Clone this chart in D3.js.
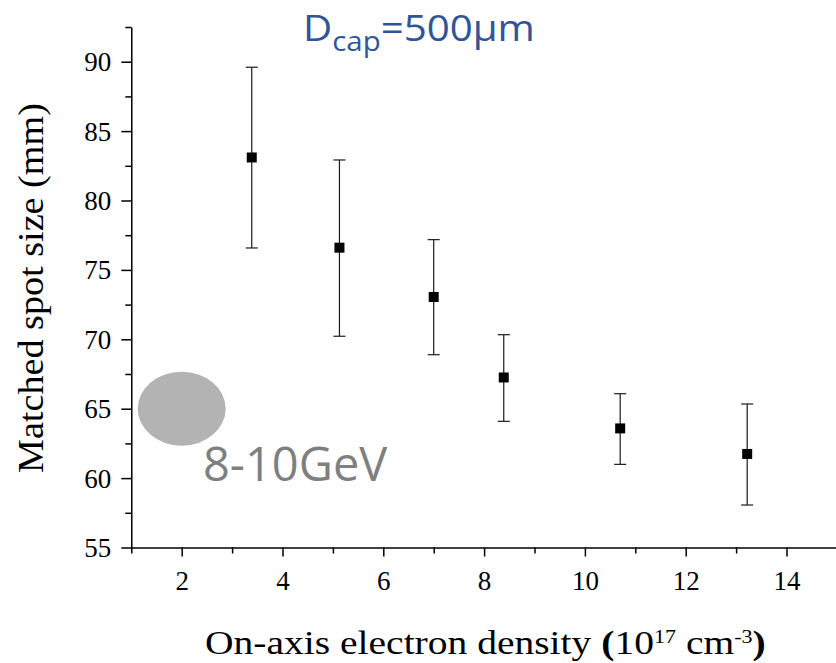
<!DOCTYPE html>
<html lang="en">
<head>
    <meta charset="UTF-8">
    <title>Matched spot size</title>
    <script type="text/javascript" src="https://d3js.org/d3.v7.min.js"></script>
    <style>
        body { margin: 0; background: #fff; }
        .tick text { font-family: "Liberation Serif", "Times New Roman", serif; font-size: 27px; fill: #000; }
        .axis path, .axis line { stroke: #000; stroke-width: 1.5px; }
    </style>
</head>
<body>
    <div id="chart"></div>

    <script type="text/javascript">

        // data
        var density = [3.39, 5.13, 7.0, 8.39, 10.70, 13.22];
        var spotSize = [83.1, 76.6, 73.05, 67.25, 63.58, 61.74];
        var errTop = [89.6, 82.92, 77.18, 70.33, 66.08, 65.34];
        var errBottom = [76.58, 70.22, 68.89, 64.09, 60.99, 58.06];

        var xMajor = [2, 4, 6, 8, 10, 12, 14];
        var xMinor = [1, 3, 5, 7, 9, 11, 13, 15];
        var yMajor = [55, 60, 65, 70, 75, 80, 85, 90];
        var yMinor = [57.5, 62.5, 67.5, 72.5, 77.5, 82.5, 87.5, 92.5];

        var w = 836,
            h = 663;

        var svg = d3.select("#chart")
            .append("svg")
            .attr("width", w)
            .attr("height", h);

        var x = d3.scaleLinear().domain([1, 15]).range([131.3, 836.9]);
        var y = d3.scaleLinear().domain([55, 92.5]).range([547.5, 27]);

        // minor ticks first, majors on top
        svg.append("g")
            .attr("class", "axis")
            .attr("transform", "translate(0," + y(55) + ")")
            .call(d3.axisBottom(x).tickValues(xMinor).tickSize(6).tickFormat(""))
            .select(".domain").remove();

        svg.append("g")
            .attr("class", "axis")
            .attr("transform", "translate(" + x(1) + ",0)")
            .call(d3.axisLeft(y).tickValues(yMinor).tickSize(6).tickFormat(""))
            .select(".domain").remove();

        var xAxis = svg.append("g")
            .attr("class", "axis")
            .attr("transform", "translate(0," + y(55) + ")")
            .call(d3.axisBottom(x).tickValues(xMajor).tickSize(9).tickSizeOuter(0).tickFormat(d3.format("d")));
        xAxis.selectAll(".tick text").attr("y", 42.5).attr("dy", 0);

        var yAxis = svg.append("g")
            .attr("class", "axis")
            .attr("transform", "translate(" + x(1) + ",0)")
            .call(d3.axisLeft(y).tickValues(yMajor).tickSize(10).tickSizeOuter(0).tickFormat(d3.format("d")));
        yAxis.selectAll(".tick text").attr("x", -20).attr("dy", "0.33em");

        // grey blob + energy label
        svg.append("ellipse")
            .attr("cx", x(2))
            .attr("cy", y(65))
            .attr("rx", 44)
            .attr("ry", 37)
            .attr("fill", "#b3b3b3");

        svg.append("text")
            .attr("x", 203)
            .attr("y", 481)
            .attr("font-family", "'Open Sans', sans-serif")
            .attr("font-size", "47px")
            .attr("fill", "#7f7f7f")
            .text("8-10GeV");

        // error bars
        var pts = density.map(function(d, i) {
            return {x: d, y: spotSize[i], hi: errTop[i], lo: errBottom[i]};
        });

        var bars = svg.selectAll(".err")
            .data(pts)
            .enter()
            .append("g")
            .attr("class", "err")
            .attr("stroke", "#1a1a1a")
            .attr("stroke-width", 1.2);

        bars.append("line")
            .attr("x1", function(d) { return x(d.x); })
            .attr("x2", function(d) { return x(d.x); })
            .attr("y1", function(d) { return y(d.hi); })
            .attr("y2", function(d) { return y(d.lo); });
        bars.append("line")
            .attr("x1", function(d) { return x(d.x) - 6; })
            .attr("x2", function(d) { return x(d.x) + 6; })
            .attr("y1", function(d) { return y(d.hi); })
            .attr("y2", function(d) { return y(d.hi); });
        bars.append("line")
            .attr("x1", function(d) { return x(d.x) - 6; })
            .attr("x2", function(d) { return x(d.x) + 6; })
            .attr("y1", function(d) { return y(d.lo); })
            .attr("y2", function(d) { return y(d.lo); });

        // markers
        svg.selectAll(".pt")
            .data(pts)
            .enter()
            .append("rect")
            .attr("class", "pt")
            .attr("x", function(d) { return x(d.x) - 5; })
            .attr("y", function(d) { return y(d.y) - 5; })
            .attr("width", 10)
            .attr("height", 10)
            .attr("fill", "#000");

        // stretch a text node along its own direction to a target length
        function fit(node, len, tr) {
            var bw = node.node().getBBox().width;
            node.attr("transform", tr + " scale(" + (len / bw) + ",1)");
        }

        // title
        var title = svg.append("text")
            .attr("font-family", "'Open Sans', sans-serif")
            .attr("font-size", "37px")
            .attr("fill", "#2f5597");
        title.append("tspan").text("D");
        title.append("tspan").attr("font-size", "27px").attr("dy", 10).text("cap");
        title.append("tspan").attr("dy", -10).text("=500\u03bcm");
        fit(title, 232, "translate(303,40.5)");

        // x label
        var xl = svg.append("text")
            .attr("font-family", "'Liberation Serif', 'Times New Roman', serif")
            .attr("font-size", "34px")
            .attr("fill", "#000");
        xl.append("tspan").text("On-axis electron density ");
        xl.append("tspan").attr("font-weight", "bold").text("(");
        xl.append("tspan").text("10");
        xl.append("tspan").attr("font-size", "19px").attr("dy", -11).text("17");
        xl.append("tspan").attr("dy", 11).text(" cm");
        xl.append("tspan").attr("font-size", "19px").attr("dy", -11).text("-3");
        xl.append("tspan").attr("dy", 11).attr("font-weight", "bold").text(")");
        fit(xl, 561, "translate(205,654)");

        // y label
        var yl = svg.append("text")
            .attr("font-family", "'Liberation Serif', 'Times New Roman', serif")
            .attr("font-size", "36px")
            .attr("fill", "#000")
            .text("Matched spot size (mm)");
        fit(yl, 370, "translate(43,473) rotate(-90)");
    </script>
</body>
</html>
